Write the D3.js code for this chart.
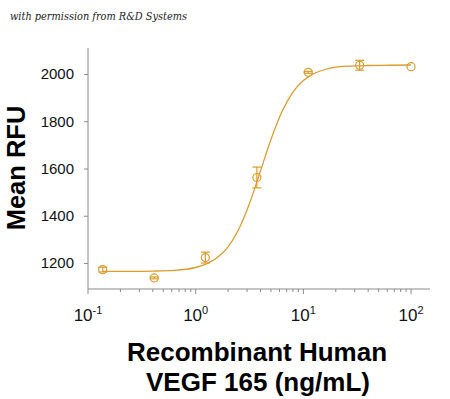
<!DOCTYPE html>
<html><head><meta charset="utf-8">
<script src="https://cdn.jsdelivr.net/npm/d3@7"></script>
<style>
body{margin:0;background:#fff;}
svg{display:block;}
</style></head>
<body>
<svg id="chart" width="450" height="399"></svg>
<script>
// Measured points (concentration in ng/mL, mean RFU, error)
const concentrations = [0.137, 0.412, 1.23, 3.70, 11.1, 33.3, 100];
const meanRFU = [1172, 1137, 1223, 1562, 2007, 2037, 2031];
const errRFU = [10, 4, 23, 44, 4, 21, 0];
// Fitted curve
const curveX = [0.137, 0.25, 0.4, 0.63, 1.0, 1.26, 1.58, 2.0, 2.51, 3.16, 3.98, 5.01, 6.31, 7.94, 10.0, 12.6, 15.8, 25.1, 39.8, 63.1, 100];
const curveY = [1165, 1165, 1166, 1169, 1181, 1196, 1222, 1268, 1343, 1452, 1587, 1724, 1839, 1921, 1972, 2002, 2019, 2033, 2036, 2037, 2038];
const yTicks = [1200, 1400, 1600, 1800, 2000];
const xTickExponents = [-1, 0, 1, 2];

const color = "#dc9c2e";
const axisColor = "#8a8a8a";
const svg = d3.select("#chart");

const x = d3.scaleLog().domain([0.1, 150]).range([88, 430]);
const y = d3.scaleLinear().domain([1090, 2110]).range([289, 48]);

// watermark
svg.append("text").attr("x", 10).attr("y", 20)
  .attr("font-family", "'DejaVu Serif', serif").attr("font-style", "italic")
  .attr("font-size", 10.5).attr("fill", "#222")
  .attr("textLength", 177).attr("lengthAdjust", "spacingAndGlyphs")
  .text("with permission from R&D Systems");

// Y axis
const yAxis = svg.append("g").attr("transform", "translate(88,0)")
  .call(d3.axisLeft(y).tickValues(yTicks).tickSize(4).tickPadding(10).tickFormat(d3.format("d")));
yAxis.select(".domain").attr("stroke", axisColor).attr("d", `M0,${y.range()[1]}V${y.range()[0]}`);
yAxis.selectAll(".tick line").attr("stroke", axisColor);
yAxis.selectAll(".tick text").attr("font-family", "'Liberation Sans Narrow','Arial Narrow','Liberation Sans',sans-serif")
  .attr("font-size", 15).attr("fill", "#111");

// X axis
const minorTicks = [];
for (let e = -1; e <= 2; e++) for (let m = 1; m <= 9; m++) { const v = m * Math.pow(10, e); if (v <= 150) minorTicks.push(v); }
const xAxisG = svg.append("g").attr("transform", "translate(0,289)");
xAxisG.append("line").attr("x1", x.range()[0]).attr("x2", x.range()[1]).attr("stroke", axisColor);
xAxisG.selectAll("line.minor").data(minorTicks).join("line").attr("class", "minor")
  .attr("x1", d => x(d)).attr("x2", d => x(d)).attr("y1", 0)
  .attr("y2", d => (Math.abs(Math.log10(d) - Math.round(Math.log10(d))) < 1e-9) ? 5 : 3)
  .attr("stroke", axisColor);
const xl = xAxisG.selectAll("text.xl").data(xTickExponents).join("text").attr("class", "xl")
  .attr("x", d => x(Math.pow(10, d))).attr("y", 32).attr("text-anchor", "middle")
  .attr("font-family", "'Liberation Sans Narrow','Arial Narrow','Liberation Sans',sans-serif")
  .attr("font-size", 17).attr("fill", "#111");
xl.append("tspan").text("10");
xl.append("tspan").attr("dy", -7).attr("font-size", 11).text(d => d < 0 ? "-" + Math.abs(d) : d);

// curve
const line = d3.line().x((d, i) => x(curveX[i])).y(d => y(d)).curve(d3.curveMonotoneX);
svg.append("path").datum(curveY).attr("d", line).attr("fill", "none").attr("stroke", color).attr("stroke-width", 1.3);

// error bars & points
const pts = svg.append("g");
concentrations.forEach((c, i) => {
  const cx = x(c), cy = y(meanRFU[i]);
  if (errRFU[i] > 0) {
    const y1 = y(meanRFU[i] + errRFU[i]), y2 = y(meanRFU[i] - errRFU[i]);
    pts.append("line").attr("x1", cx).attr("x2", cx).attr("y1", y1).attr("y2", y2).attr("stroke", color).attr("stroke-width", 1.2);
    [y1, y2].forEach(yy => pts.append("line").attr("x1", cx - 4.5).attr("x2", cx + 4.5).attr("y1", yy).attr("y2", yy).attr("stroke", color).attr("stroke-width", 1.2));
  }
  pts.append("circle").attr("cx", cx).attr("cy", cy).attr("r", 4).attr("fill", "none").attr("stroke", color).attr("stroke-width", 1.2);
});

// axis titles
svg.append("text").attr("transform", "translate(25,168) rotate(-90)").attr("text-anchor", "middle")
  .attr("font-family", "'Liberation Sans',Arial,sans-serif").attr("font-weight", "bold").attr("font-size", 25.5).attr("fill", "#000")
  .text("Mean RFU");
svg.append("text").attr("x", 257).attr("y", 361).attr("text-anchor", "middle")
  .attr("font-family", "'Liberation Sans',Arial,sans-serif").attr("font-weight", "bold").attr("font-size", 26).attr("fill", "#000")
  .text("Recombinant Human");
svg.append("text").attr("x", 258).attr("y", 391).attr("text-anchor", "middle")
  .attr("font-family", "'Liberation Sans',Arial,sans-serif").attr("font-weight", "bold").attr("font-size", 26).attr("fill", "#000")
  .text("VEGF 165 (ng/mL)");
</script>
</body></html>
